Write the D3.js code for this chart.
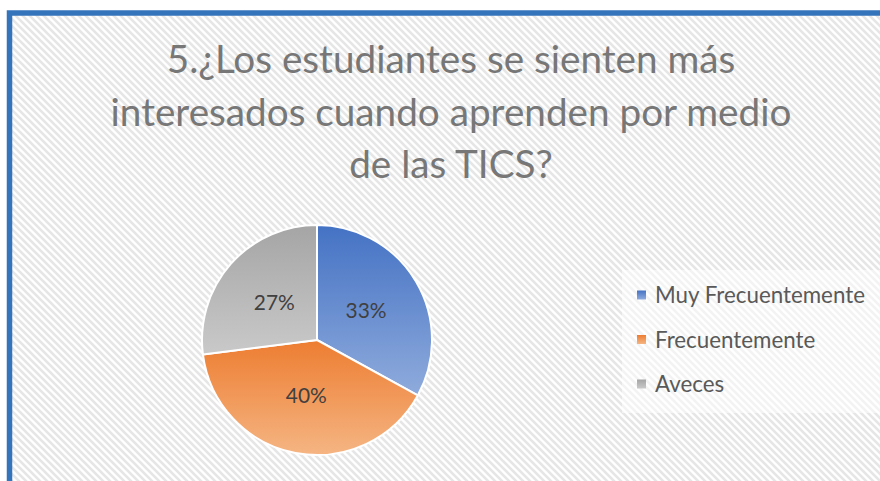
<!DOCTYPE html>
<html><head><meta charset="utf-8">
<script src="https://cdn.jsdelivr.net/npm/d3@7"></script>
<style>html,body{margin:0;padding:0;background:#fff;overflow:hidden}</style>
</head><body>
<svg id="chart" width="880" height="481"></svg>
<script>
const titleLines = ["5.¿Los estudiantes se sienten más", "interesados cuando aprenden por medio", "de las TICS?"];
const categories = ["Muy Frecuentemente", "Frecuentemente", "Aveces"];
const values = [33, 40, 27];
const pctLabels = ["33%", "40%", "27%"];
const colorTop = ["#4472c4", "#ed7d31", "#a5a5a5"];
const colorBottom = ["#8fabdc", "#f5b583", "#c9c9c9"];

const W = 880, H = 481;
const FONT = "Lato, 'Open Sans', sans-serif";
const svg = d3.select("#chart");
const defs = svg.append("defs");

// hatch pattern
const pat = defs.append("pattern").attr("id", "hatch").attr("patternUnits", "userSpaceOnUse")
  .attr("width", 7).attr("height", 7);
pat.append("rect").attr("width", 7).attr("height", 7).attr("fill", "#ffffff");
pat.append("path").attr("d", "M-2,-2 L9,9 M-2,5 L2,9 M5,-2 L9,2")
  .attr("stroke", "#e6e6e6").attr("stroke-width", 2.6);

categories.forEach((c, i) => {
  const g = defs.append("linearGradient").attr("id", "grad" + i)
    .attr("x1", 0).attr("y1", 0).attr("x2", 0).attr("y2", 1);
  g.append("stop").attr("offset", "0%").attr("stop-color", colorTop[i]);
  g.append("stop").attr("offset", "100%").attr("stop-color", colorBottom[i]);
});

svg.append("rect").attr("width", W).attr("height", H).attr("fill", "#fff");
svg.append("rect").attr("x", 9.5).attr("y", 13).attr("width", 900).attr("height", 500)
  .attr("fill", "url(#hatch)").attr("stroke", "#3474ba").attr("stroke-width", 5.5);

function fitSize(sel, text, targetW, base) {
  sel.attr("font-size", base).text(text);
  const w = sel.node().getComputedTextLength();
  return base * targetW / w;
}

// Title
const titleBaselines = [73, 126, 178];
const tmp = svg.append("text").attr("font-family", FONT);
const titleSize = fitSize(tmp, titleLines[1], 681, 40);
tmp.remove();
svg.append("g").selectAll("text").data(titleLines).join("text")
  .attr("x", 451).attr("y", (d, i) => titleBaselines[i])
  .attr("text-anchor", "middle").attr("font-family", FONT)
  .attr("font-size", titleSize).attr("fill", "#777777").text(d => d);

// Pie
const cx = 317, cy = 340, R = 115;
const pie = d3.pie().sort(null).value(d => d);
const arcs = pie(values);
const arc = d3.arc().innerRadius(0).outerRadius(R);
const labelArc = d3.arc().innerRadius(57).outerRadius(57);
const pg = svg.append("g").attr("transform", `translate(${cx},${cy})`);
pg.selectAll("path").data(arcs).join("path")
  .attr("d", arc).attr("fill", (d, i) => `url(#grad${i})`)
  .attr("stroke", "#fff").attr("stroke-width", 2).attr("stroke-linejoin", "round");

const tmp2 = svg.append("text").attr("font-family", FONT);
const labSize = fitSize(tmp2, pctLabels[0], 41, 20);
tmp2.remove();
pg.selectAll("text").data(arcs).join("text")
  .attr("transform", d => `translate(${labelArc.centroid(d)})`)
  .attr("text-anchor", "middle").attr("dy", "0.35em")
  .attr("font-family", FONT).attr("font-size", labSize).attr("fill", "#404040")
  .text((d, i) => pctLabels[i]);

// Legend
svg.append("rect").attr("x", 622).attr("y", 270).attr("width", 258).attr("height", 143)
  .attr("fill", "#ffffff").attr("opacity", 0.5);
const tmp3 = svg.append("text").attr("font-family", FONT);
const legSize = fitSize(tmp3, categories[0], 210, 18);
tmp3.remove();
const legY = d3.scalePoint().domain(categories).range([295, 384]);
const lg = svg.append("g");
const items = lg.selectAll("g").data(categories).join("g")
  .attr("transform", d => `translate(0,${legY(d)})`);
items.append("rect").attr("x", 637).attr("y", -4.5).attr("width", 9).attr("height", 9)
  .attr("fill", (d, i) => `url(#grad${i})`);
items.append("text").attr("x", 655).attr("y", 0).attr("dy", "0.36em")
  .attr("font-family", FONT).attr("font-size", legSize).attr("fill", "#595959").text(d => d);
</script>
</body></html>
